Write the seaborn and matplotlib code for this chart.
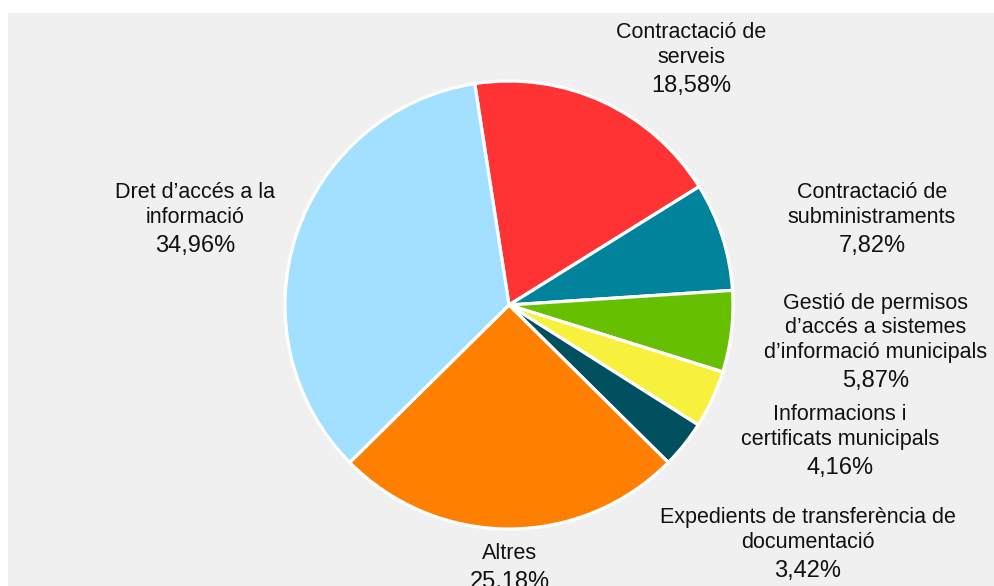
import matplotlib
matplotlib.use("Agg")
import matplotlib.pyplot as plt
import seaborn as sns
from matplotlib.patches import Rectangle

# data, clockwise from the top
labels = ["Contractació de\nserveis",
          "Contractació de\nsubministraments",
          "Gestió de permisos\nd\u2019accés a sistemes\nd\u2019informació municipals",
          "Informacions i\ncertificats municipals",
          "Expedients de transferència de\ndocumentació",
          "Altres",
          "Dret d\u2019accés a la\ninformació"]
values = [18.58, 7.82, 5.87, 4.16, 3.42, 25.18, 34.96]
colors = ["#ff3333", "#00839b", "#66bf00", "#f7f03c", "#00505f", "#ff8000", "#a3e0ff"]

# where each label's percentage baseline sits (pie radius = 1, centre 509,305 px)
cx, cy, r = 509, 305, 224
label_px = [(691, 92), (872, 252), (876, 387), (840, 474), (808, 577), (510, 588), (195, 252)]

sns.set_theme(style="white")
plt.rcParams["font.family"] = ["Liberation Sans", "DejaVu Sans"]

fig = plt.figure(figsize=(9.95, 5.86), dpi=100)
fig.patch.set_facecolor("white")
fig.patches.append(Rectangle((8 / 995, 0), 1, 1 - 13 / 586, transform=fig.transFigure,
                             facecolor="#f0f0f0", edgecolor="none", zorder=-10))

ax = fig.add_axes([0, 0, 1, 1])
ax.set_facecolor("none")
ax.pie(values, colors=colors, startangle=98.8, counterclock=False,
       wedgeprops=dict(edgecolor="white", linewidth=2.3))

for lab, v, (px, py) in zip(labels, values, label_px):
    x, y = (px - cx) / r, (cy - py) / r
    pct = f"{v:.2f}%".replace(".", ",")
    ax.text(x, y, pct, ha="center", va="baseline", fontsize=17, color="#111111")
    ax.annotate(lab, xy=(x, y), xytext=(0, 17.5), textcoords="offset points",
                ha="center", va="bottom", fontsize=15.5, color="#111111",
                linespacing=1.22, annotation_clip=False)

ax.set_aspect("equal")
ax.set_xlim(-cx / r, (995 - cx) / r)
ax.set_ylim((cy - 586) / r, cy / r)
ax.axis("off")

fig.savefig("out.png", dpi=100)
